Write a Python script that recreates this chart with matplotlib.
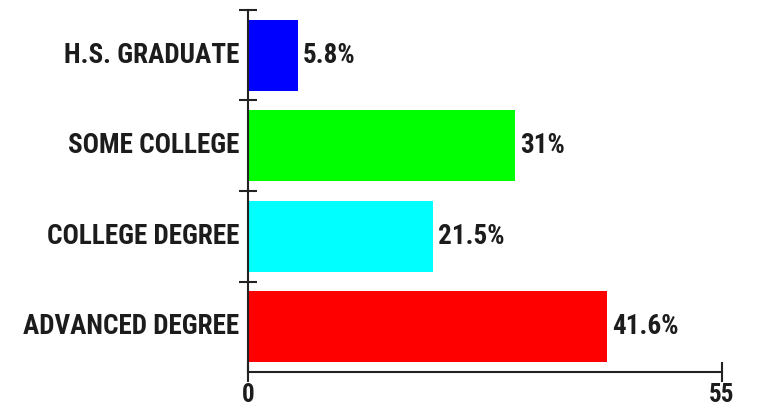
import matplotlib
matplotlib.use("Agg")
import matplotlib.pyplot as plt
from matplotlib import font_manager

categories = ["H.S. GRADUATE", "SOME COLLEGE", "COLLEGE DEGREE", "ADVANCED DEGREE"]
values = [5.8, 31, 21.5, 41.6]
value_labels = ["5.8%", "31%", "21.5%", "41.6%"]
bar_colors = ["#0000ff", "#00ff00", "#00ffff", "#ff0000"]
x_ticks = [0, 55]

# want a narrow bold sans like Arial Narrow; only take a family that has a real bold
bold_names = {f.name for f in font_manager.fontManager.ttflist
              if f.style == "normal" and int(f.weight) >= 700}
prefs = ["Liberation Sans Narrow", "Arial Narrow", "Archivo Narrow", "Roboto Condensed",
         "PT Sans Narrow", "Open Sans Condensed", "Barlow Condensed", "Asap Condensed"]
family = next((p for p in prefs if p in bold_names), "Liberation Sans")
plt.rcParams["font.family"] = [family, "DejaVu Sans"]
text_color = "#1c1c1c"
fs = 19.5

fig = plt.figure(figsize=(7.66, 4.11), dpi=100)
ax = fig.add_axes([248 / 766, 1 - 372 / 411, (722 - 248) / 766, (372 - 10) / 411])

ypos = list(range(len(categories)))
ax.barh(ypos, values, height=0.79, color=bar_colors)

for y, v, lab in zip(ypos, values, value_labels):
    ax.text(v + 0.6, y, lab, va="center", ha="left", fontsize=fs,
            fontweight="bold", color=text_color)

ax.set_xlim(0, 55)
ax.set_ylim(3.5, -0.5)

# category labels at slot centers, ticks at slot boundaries
ax.set_yticks([-0.5, 0.5, 1.5, 2.5])
ax.set_yticklabels([])
ax.tick_params(axis="y", direction="inout", length=13, width=1.5, color="#222222")
for y, c in zip(ypos, categories):
    ax.text(-0.018, y, c, transform=ax.get_yaxis_transform(), ha="right", va="center",
            fontsize=fs, fontweight="bold", color=text_color)

ax.set_xticks(x_ticks)
ax.set_xticklabels([str(t) for t in x_ticks], fontsize=18, fontweight="bold", color=text_color)
ax.tick_params(axis="x", direction="inout", length=14, width=1.5, color="#222222", pad=1)

for s in ["top", "right"]:
    ax.spines[s].set_visible(False)
for s in ["left", "bottom"]:
    ax.spines[s].set_linewidth(1.5)
    ax.spines[s].set_color("#222222")

fig.savefig("out.png", dpi=100)
